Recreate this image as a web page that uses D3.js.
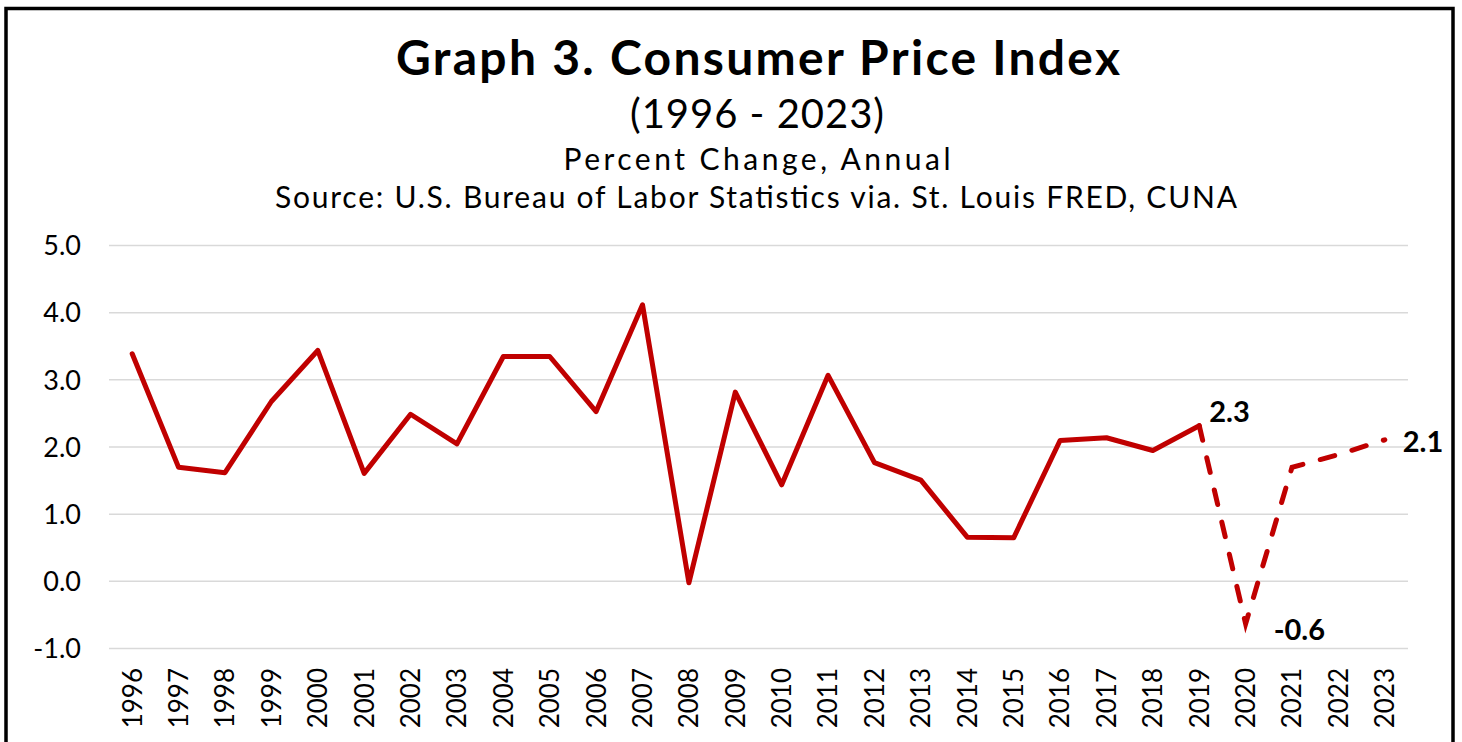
<!DOCTYPE html>
<html>
<head>
<meta charset="utf-8">
<script src="https://cdn.jsdelivr.net/npm/d3@7"></script>
<style>
  body { margin: 0; background: #fff; }
  text { font-family: Lato, "DejaVu Sans", sans-serif; fill: #000; }
</style>
</head>
<body>
<div id="chart"></div>
<script>
// Data
var years = ["1996","1997","1998","1999","2000","2001","2002","2003","2004","2005",
             "2006","2007","2008","2009","2010","2011","2012","2013","2014","2015",
             "2016","2017","2018","2019","2020","2021","2022","2023"];
var cpi = [3.38, 1.69, 1.61, 2.67, 3.43, 1.60, 2.48, 2.04, 3.34, 3.34,
           2.52, 4.11, -0.03, 2.81, 1.43, 3.06, 1.76, 1.50, 0.65, 0.64,
           2.09, 2.13, 1.94, 2.31, -0.64, 1.69, 1.88, 2.10];
var lastActual = "2019";
var yTicks = [-1, 0, 1, 2, 3, 4, 5];
var callouts = ["2019", "2020", "2023"];

// Chart size
var svgWidth = 1462;
var svgHeight = 742;
var margin = { top: 245, right: 54, bottom: 94, left: 109 };
var width = svgWidth - margin.left - margin.right;
var height = svgHeight - margin.top - margin.bottom;

// plain hyphen for negatives, like the original
var fmt = v => d3.format(".1f")(v).replace("\u2212", "-");

var svg = d3.select("#chart")
  .append("svg")
  .attr("width", svgWidth)
  .attr("height", svgHeight);

// outer frame
svg.append("rect")
  .attr("x", 6)
  .attr("y", 8.5)
  .attr("width", 1447)
  .attr("height", 760)
  .attr("fill", "none")
  .attr("stroke", "#000")
  .attr("stroke-width", 3.5);

// titles (textLength stretches Lato to the wider original face)
svg.append("text")
  .attr("x", 758).attr("y", 75)
  .attr("text-anchor", "middle")
  .attr("textLength", 724)
  .attr("lengthAdjust", "spacing")
  .style("font-size", "48px")
  .style("font-weight", "bold")
  .text("Graph 3. Consumer Price Index");

svg.append("text")
  .attr("x", 757).attr("y", 128)
  .attr("text-anchor", "middle")
  .attr("textLength", 254)
  .attr("lengthAdjust", "spacing")
  .style("font-size", "40px")
  .text("(1996 - 2023)");

svg.append("text")
  .attr("x", 757).attr("y", 170)
  .attr("text-anchor", "middle")
  .attr("textLength", 387)
  .attr("lengthAdjust", "spacing")
  .style("font-size", "30px")
  .text("Percent Change, Annual");

svg.append("text")
  .attr("x", 756).attr("y", 208)
  .attr("text-anchor", "middle")
  .attr("textLength", 962)
  .attr("lengthAdjust", "spacing")
  .style("font-size", "30px")
  .text("Source: U.S. Bureau of Labor Statistics via. St. Louis FRED, CUNA");

var chartGroup = svg.append("g")
  .attr("transform", `translate(${margin.left}, ${margin.top})`);

// scales
var xScale = d3.scaleBand()
  .domain(years)
  .range([0, width]);

var yScale = d3.scaleLinear()
  .domain([-1, 5])
  .range([height, 0]);

var xPos = d => xScale(d) + xScale.bandwidth() / 2;

// gridlines + y axis labels
var leftAxis = d3.axisLeft(yScale)
  .tickValues(yTicks)
  .tickSize(-width)
  .tickPadding(28)
  .tickFormat(fmt);

var yAxis = chartGroup.append("g").call(leftAxis);
yAxis.select(".domain").remove();
yAxis.selectAll("line").attr("stroke", "#d9d9d9").attr("stroke-width", 1.5);
yAxis.selectAll("text")
  .style("font-size", "27px")
  .attr("dy", "0.36em")
  .attr("fill", "#000");

// x axis labels, rotated
var bottomAxis = d3.axisBottom(xScale).tickSize(0).tickPadding(0);
var xAxis = chartGroup.append("g")
  .attr("transform", `translate(0, ${height})`)
  .call(bottomAxis);
xAxis.select(".domain").remove();
xAxis.selectAll("text")
  .style("font-size", "26px")
  .attr("fill", "#000")
  .attr("transform", "rotate(-90)")
  .attr("text-anchor", "end")
  .attr("x", -20)
  .attr("y", 0)
  .attr("dy", "0.36em");

// line data
var data = years.map((y, i) => ({ year: y, value: cpi[i] }));
var cut = years.indexOf(lastActual);
var actual = data.slice(0, cut + 1);
var forecast = data.slice(cut);

var line = d3.line()
  .x(d => xPos(d.year))
  .y(d => yScale(d.value));

chartGroup.append("path")
  .datum(actual)
  .attr("d", line)
  .attr("fill", "none")
  .attr("stroke", "#c00000")
  .attr("stroke-width", 5)
  .attr("stroke-linejoin", "round")
  .attr("stroke-linecap", "round");

chartGroup.append("path")
  .datum(forecast)
  .attr("d", line)
  .attr("fill", "none")
  .attr("stroke", "#c00000")
  .attr("stroke-width", 5)
  .attr("stroke-dasharray", "15,18")
  .attr("stroke-linecap", "round");

// value callouts
var calloutOffsets = { "2019": [10, -14], "2020": [28, 6], "2023": [18, 2] };
chartGroup.selectAll(".callout")
  .data(data.filter(d => callouts.includes(d.year)))
  .enter()
  .append("text")
  .attr("class", "callout")
  .attr("x", d => xPos(d.year) + calloutOffsets[d.year][0])
  .attr("y", d => yScale(d.value) + calloutOffsets[d.year][1])
  .attr("dy", "0.36em")
  .style("font-size", "29px")
  .style("font-weight", "bold")
  .text(d => fmt(d.value));
</script>
</body>
</html>
